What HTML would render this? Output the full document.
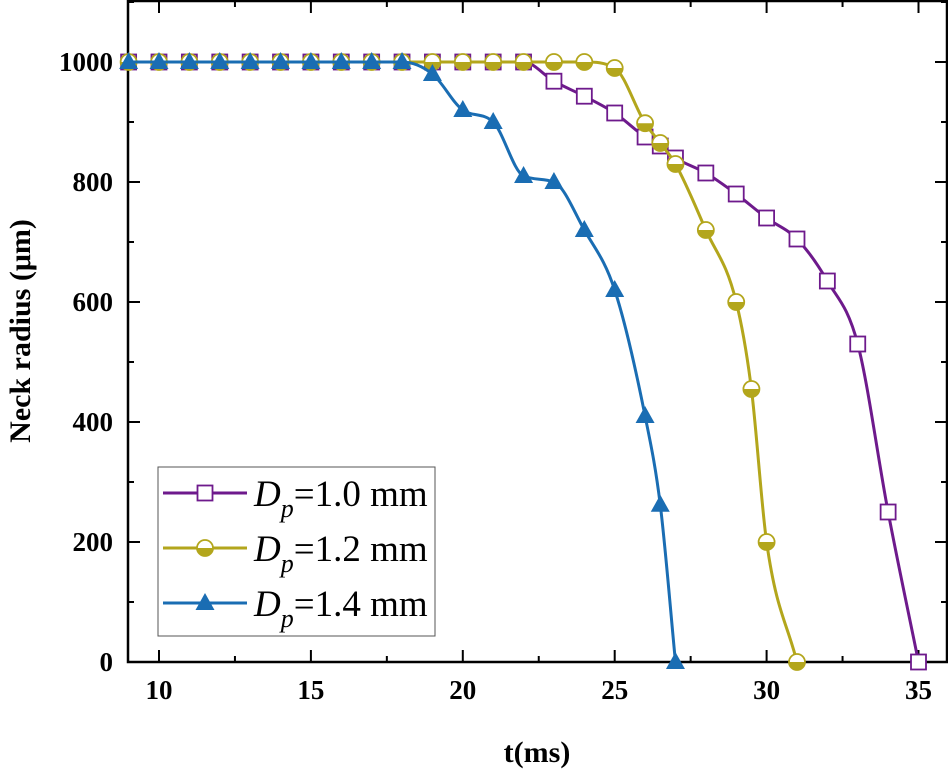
<!DOCTYPE html>
<html><head><meta charset="utf-8"><style>
body{margin:0;background:#fff}
svg{display:block;font-family:"Liberation Serif",serif}
</style></head><body>
<svg id="chart" width="948" height="775"></svg>
<script>
const series1X=[9,10,11,12,13,14,15,16,17,18,19,20,21,22,23,24,25,26,26.5,27,28,29,30,31,32,33,34,35];
const series1Y=[1000,1000,1000,1000,1000,1000,1000,1000,1000,1000,1000,1000,1000,1000,968,943,915,875,860,840,815,780,740,705,635,530,250,0];
const series2X=[9,10,11,12,13,14,15,16,17,18,19,20,21,22,23,24,25,26,26.5,27,28,29,29.5,30,31];
const series2Y=[1000,1000,1000,1000,1000,1000,1000,1000,1000,1000,1000,1000,1000,1000,1000,1000,990,898,865,830,720,600,455,200,0];
const series3X=[9,10,11,12,13,14,15,16,17,18,19,20,21,22,23,24,25,26,26.5,27];
const series3Y=[1000,1000,1000,1000,1000,1000,1000,1000,1000,1000,980,920,900,810,800,720,620,410,262,0];
const xTicks=[10,15,20,25,30,35];
const yTicks=[0,200,400,600,800,1000];
const legendLabels=["1.0 mm","1.2 mm","1.4 mm"];

const NS="http://www.w3.org/2000/svg";
const svg=document.getElementById('chart');
const X=v=>159+(v-10)*30.38;
const Y=v=>662-v*0.6;
function mk(t,a,p){const e=document.createElementNS(NS,t);for(const k in a)e.setAttribute(k,a[k]);(p||svg).appendChild(e);return e;}
const L=128,R=947,T=1,B=662;

for(let v=10;v<=36;v+=2.5){
 const major=xTicks.includes(v);
 const t=mk('line',{x1:X(v),x2:X(v),y1:B,y2:B-(major?12:6),stroke:'#000','stroke-width':2});
 
 const t2=mk('line',{x1:X(v),x2:X(v),y1:T,y2:T+(major?12:6),stroke:'#000','stroke-width':2});
 
}
xTicks.forEach(v=>{
 const t=mk('text',{x:X(v),y:699,'text-anchor':'middle','font-size':27,'font-weight':'bold'});
 
 t.textContent=v;
});
for(let v=0;v<=1100;v+=100){
 const major=yTicks.includes(v);
 const t=mk('line',{x1:L,x2:L+(major?12:6),y1:Y(v),y2:Y(v),stroke:'#000','stroke-width':2});
 
 const t2=mk('line',{x1:R,x2:R-(major?12:6),y1:Y(v),y2:Y(v),stroke:'#000','stroke-width':2});
 
}
yTicks.forEach(v=>{
 const t=mk('text',{x:113,y:Y(v)+9,'text-anchor':'end','font-size':27,'font-weight':'bold'});
 
 t.textContent=v;
});
const frame=mk('rect',{x:L,y:T,width:R-L,height:B-T,fill:'none',stroke:'#000','stroke-width':2.5});


const xt=mk('text',{x:537,y:762,'text-anchor':'middle','font-size':30,'font-weight':'bold'});

xt.textContent='t(ms)';
const yt=mk('text',{x:0,y:0,'text-anchor':'middle','font-size':30,'font-weight':'bold',transform:'translate(30,331) rotate(-90)'});

yt.textContent='Neck radius (μm)';

function spline(xs,ys){
 const p=xs.map((x,i)=>[X(x),Y(ys[i])]);
 const n=p.length,d=[],m=[];
 for(let i=0;i<n-1;i++)d.push((p[i+1][1]-p[i][1])/(p[i+1][0]-p[i][0]));
 m[0]=d[0];m[n-1]=d[n-2];
 for(let i=1;i<n-1;i++){m[i]=(d[i-1]*d[i]<=0)?0:(d[i-1]+d[i])/2;}
 for(let i=0;i<n-1;i++){
  if(d[i]===0){m[i]=0;m[i+1]=0;continue;}
  const a=m[i]/d[i],b=m[i+1]/d[i],s=a*a+b*b;
  if(s>9){const t=3/Math.sqrt(s);m[i]=t*a*d[i];m[i+1]=t*b*d[i];}
 }
 let path='M'+p[0][0]+','+p[0][1];
 for(let i=0;i<n-1;i++){
  const h=(p[i+1][0]-p[i][0])/3;
  path+=`C${p[i][0]+h},${p[i][1]+m[i]*h} ${p[i+1][0]-h},${p[i+1][1]-m[i+1]*h} ${p[i+1][0]},${p[i+1][1]}`;
 }
 return path;
}
const cols=['#6e1a8c','#b3a61c','#1a6db3'];
function marker(type,cx,cy,col,g){
 if(type==0)return mk('rect',{x:cx-7.5,y:cy-7.5,width:15,height:15,fill:'#fff',stroke:col,'stroke-width':1.8},g);
 if(type==1){const gg=mk('g',{},g);
  mk('circle',{cx,cy,r:8,fill:'#fff',stroke:col,'stroke-width':1.8},gg);
  mk('path',{d:`M${cx-8},${cy}A8,8 0 0 0 ${cx+8},${cy}Z`,fill:col},gg);return gg;}
 return mk('path',{d:`M${cx},${cy-10}L${cx+9.5},${cy+7}L${cx-9.5},${cy+7}Z`,fill:col},g);
}
const data=[[series1X,series1Y],[series2X,series2Y],[series3X,series3Y]];
[0,1,2].forEach(s=>{
 const g=mk('g',{});
 
 
 const ln=mk('path',{d:spline(data[s][0],data[s][1]),fill:'none',stroke:cols[s],'stroke-width':3},g);
 
 data[s][0].forEach((x,i)=>{
  const m=marker(s,X(x),Y(data[s][1][i]),cols[s],g);
  
 });
});
const lg=mk('g',{});

mk('rect',{x:158,y:467,width:277,height:169,fill:'#fff',stroke:'#555','stroke-width':1},lg);
[0,1,2].forEach(s=>{
 const cy=493+s*55;
 const e=mk('g',{},lg);
 
 mk('line',{x1:163,x2:247,y1:cy,y2:cy,stroke:cols[s],'stroke-width':3},e);
 marker(s,205,cy,cols[s],e);
 const t=mk('text',{x:254,y:cy+13,'font-size':37},e);
 t.innerHTML='<tspan font-style="italic">D</tspan><tspan font-style="italic" font-size="26" dy="11">p</tspan><tspan dy="-11">='+legendLabels[s]+'</tspan>';
});
</script>
</body></html>
